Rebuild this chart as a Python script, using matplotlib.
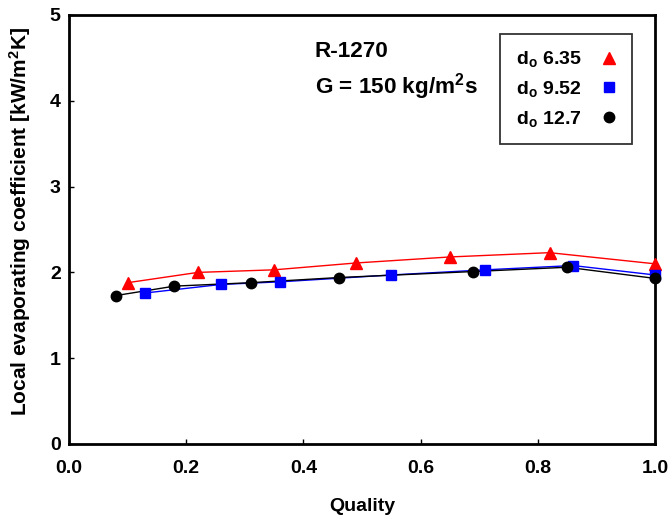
import matplotlib
matplotlib.use("Agg")
import matplotlib.pyplot as plt
from matplotlib.lines import Line2D

plt.rcParams['font.family'] = ['Liberation Sans', 'DejaVu Sans']
plt.rcParams['font.weight'] = 'bold'
plt.rcParams['mathtext.fontset'] = 'custom'
plt.rcParams['mathtext.rm'] = 'Liberation Sans:bold'
plt.rcParams['mathtext.it'] = 'Liberation Sans:bold'
plt.rcParams['mathtext.bf'] = 'Liberation Sans:bold'

# Quality and local heat transfer coefficient for each tube diameter
x_635 = [0.10, 0.22, 0.35, 0.49, 0.65, 0.82, 1.00]
h_635 = [1.88, 2.00, 2.03, 2.11, 2.18, 2.23, 2.10]

x_952 = [0.13, 0.26, 0.36, 0.55, 0.71, 0.86, 1.00]
h_952 = [1.76, 1.86, 1.89, 1.97, 2.03, 2.08, 1.97]

x_127 = [0.08, 0.18, 0.31, 0.46, 0.69, 0.85, 1.00]
h_127 = [1.73, 1.84, 1.88, 1.94, 2.01, 2.06, 1.93]

labels = [r'd$_\mathrm{o}$ 6.35', r'd$_\mathrm{o}$ 9.52', r'd$_\mathrm{o}$ 12.7']
x_ticks = [0.0, 0.2, 0.4, 0.6, 0.8, 1.0]
y_ticks = [0, 1, 2, 3, 4, 5]

fig = plt.figure(figsize=(6.7, 5.2), dpi=100)
ax = fig.add_axes([69 / 670, 76 / 520, 586 / 670, 429 / 520])

series = [
    (x_635, h_635, 'red', '^', 8),
    (x_952, h_952, 'blue', 's', 6.5),
    (x_127, h_127, 'black', 'o', 7.5),
]
handles = []
for (xs, ys, c, m, ms), lab in zip(series, labels):
    ax.plot(xs, ys, color=c, lw=1.0, zorder=2)
    ax.plot(xs, ys, ls='none', marker=m, ms=ms, color=c, mec=c, zorder=3,
            clip_on=False)
    handles.append(Line2D([], [], ls='none', marker=m, ms=ms, color=c, mec=c))

ax.set_xlim(0, 1)
ax.set_ylim(0, 5)
ax.set_xticks(x_ticks)
ax.set_xticklabels([f'{v:.1f}' for v in x_ticks])
ax.set_yticks(y_ticks)
ax.tick_params(direction='in', length=3.5, width=1, labelsize=14)
ax.tick_params(axis='x', pad=11.5)
ax.tick_params(axis='y', pad=6)
for s in ax.spines.values():
    s.set_linewidth(2)

ax.set_xlabel('Quality', fontsize=14, fontweight='bold', labelpad=15)
ax.set_ylabel(r'Local evaporating coefficient [kW/m$^\mathrm{2}$K]',
              fontsize=15, fontweight='bold')
ax.yaxis.set_label_coords(-0.061, 0.519)

ax.text(0.419, 4.58, 'R-1270', fontsize=16.2, fontweight='bold', va='center', ha='left')
ax.text(0.419, 4.17, r'G = 150 kg/m$^\mathrm{2}$s', fontsize=16.2, fontweight='bold',
        va='center', ha='left')

leg = ax.legend(handles, labels, loc='upper right', bbox_to_anchor=(0.961, 0.956),
                markerfirst=False, fontsize=14, frameon=True, fancybox=False,
                edgecolor='black', handlelength=0.8, handletextpad=1.0,
                labelspacing=0.5, borderpad=0.8, borderaxespad=0)
leg.get_frame().set_linewidth(1.3)

fig.savefig('out.png', dpi=100)
